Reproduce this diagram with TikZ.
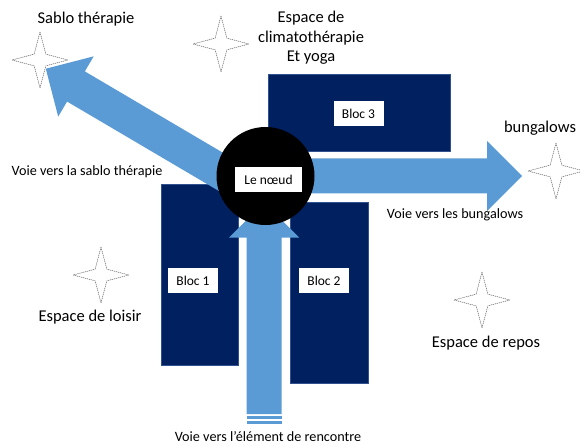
\documentclass[tikz,border=0pt]{standalone}
\usepackage{fontspec}
\setmainfont{Carlito}
\usetikzlibrary{shapes.geometric}
\definecolor{navy}{HTML}{002060}
\definecolor{contour}{HTML}{2F528F}
\definecolor{voieblue}{HTML}{5B9BD5}
% voie : tail x, tail y, angle, length
\newcommand\voie[4]{%
  \fill[voieblue, shift={(#1,#2)}, rotate=#3]
    (0,-17.5) -- (#4-35,-17.5) -- (#4-35,-35) -- (#4,0) -- (#4-35,35) -- (#4-35,17.5) -- (0,17.5) -- cycle;}
\begin{document}
\begin{tikzpicture}[
  x=1pt, y=-1pt,
  bloc/.style={rectangle, draw=contour, line width=0.6pt, fill=navy, inner sep=0pt},
  etiquette/.style={rectangle, fill=white, inner sep=0pt, minimum width=50pt, minimum height=25pt, font=\fontsize{13.5}{16}\selectfont},
  espace/.style={star, star points=4, star point ratio=3.4, draw=black!65, line width=0.5pt, dash pattern=on 1.2pt off 0.8pt, fill=white, inner sep=0pt, minimum size=56pt},
  grand/.style={align=center, font=\fontsize{16.5}{19.5}\selectfont},
  petit/.style={font=\fontsize{14.2}{17}\selectfont}
]
\useasboundingbox (0,0) rectangle (580,446);
% les blocs
\node[bloc, minimum width=182pt, minimum height=77pt] (bloc3) at (359,112.5) {};
\node[bloc, minimum width=77pt, minimum height=181pt] (bloc1) at (199.5,274.5) {};
\node[bloc, minimum width=78pt, minimum height=181pt] (bloc2) at (329,292.5) {};
\node[etiquette] (bloc3-txt) at (358.5,113.5) {Bloc 3};
\node[etiquette] (bloc1-txt) at (193,280.5) {Bloc 1};
\node[etiquette] (bloc2-txt) at (324,280.5) {Bloc 2};
% les voies
\voie{250}{189}{149.5}{237}
\voie{265}{176}{0}{257}
\voie{264}{414}{90}{211.5}
\fill[voieblue] (246.5,415.5) rectangle (281.5,419);
\fill[voieblue] (246.5,420.5) rectangle (281.5,424);
% le noeud
\node[circle, fill=black, minimum size=98pt, inner sep=0pt] (noeud) at (265.5,176) {};
\node[etiquette, minimum width=67pt] (noeud-txt) at (268.5,179.5) {Le nœud};
% les espaces
\node[espace] (star-sablo) at (40,60) {};
\node[espace] (star-climato) at (221,44) {};
\node[espace] (star-bungalows) at (556,171) {};
\node[espace] (star-loisir) at (101,275) {};
\node[espace] (star-repos) at (482,300) {};
\node[grand] (sablo) at (86,19) {Sablo thérapie};
\node[grand] (climato) at (311,38) {Espace de\\climatothérapie\\Et yoga};
\node[grand, anchor=east] (bungalows) at (579.5,128) {bungalows};
\node[grand] (loisir) at (90,317) {Espace de loisir};
\node[grand] (repos) at (486,343) {Espace de repos};
\node[petit] (lbl-sablo) at (87,172) {Voie vers la sablo thérapie};
\node[petit] (lbl-bungalows) at (455,215) {Voie vers les bungalows};
\node[petit] (lbl-rencontre) at (268,437) {Voie vers l’élément de rencontre};
\end{tikzpicture}
\end{document}
